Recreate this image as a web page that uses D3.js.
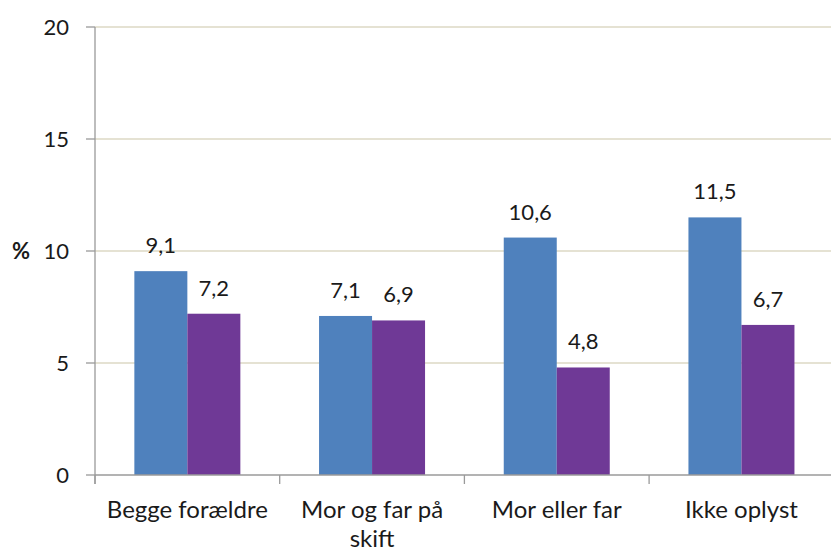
<!DOCTYPE html>
<html><head><meta charset="utf-8">
<script src="https://cdn.jsdelivr.net/npm/d3@7"></script>
<style>body{margin:0;background:#fff}svg{display:block}text{font-family:Lato,"Open Sans",sans-serif;fill:#1a1a1a}</style>
</head><body><svg id="c" width="831" height="552"></svg>
<script>
const categories = [["Begge forældre"], ["Mor og far på", "skift"], ["Mor eller far"], ["Ikke oplyst"]];
const series1 = [9.1, 7.1, 10.6, 11.5];
const series2 = [7.2, 6.9, 4.8, 6.7];
const yTicks = [0, 5, 10, 15, 20];
const colors = ["#4F81BD", "#6F3996"];

const svg = d3.select("#c");
const m = {l: 95, t: 27, b: 475, r: 833.8};
const x = d3.scaleBand().domain(d3.range(categories.length)).range([m.l, m.r]).paddingInner(0).paddingOuter(0);
const y = d3.scaleLinear().domain([0, 20]).range([m.b, m.t]);
const bw = 53;
const fs = 22;

// gridlines
svg.append("g").selectAll("line").data(yTicks.filter(d => d > 0)).join("line")
  .attr("x1", m.l).attr("x2", 831).attr("y1", d => y(d)).attr("y2", d => y(d))
  .attr("stroke", "#DCD9C5").attr("stroke-width", 1.3);

// bars
const data = [series1, series2];
data.forEach((s, si) => {
  svg.append("g").selectAll("rect").data(s).join("rect")
    .attr("x", (d, i) => x(i) + x.bandwidth() / 2 - bw + si * bw)
    .attr("width", bw)
    .attr("y", d => y(d)).attr("height", d => y(0) - y(d))
    .attr("fill", colors[si]);
  svg.append("g").selectAll("text").data(s).join("text")
    .attr("x", (d, i) => x(i) + x.bandwidth() / 2 - bw / 2 + si * bw)
    .attr("y", d => y(d) - 18)
    .attr("text-anchor", "middle").attr("font-size", fs)
    .text(d => d.toFixed(1).replace(".", ","));
});

// y axis
const ax = svg.append("g").attr("stroke", "#9A9A9A").attr("stroke-width", 1.3);
ax.append("line").attr("x1", m.l).attr("x2", m.l).attr("y1", m.t).attr("y2", m.b + 9);
ax.append("line").attr("x1", m.l).attr("x2", 831).attr("y1", m.b).attr("y2", m.b);
ax.selectAll(".yt").data(yTicks).join("line").attr("class", "yt")
  .attr("x1", m.l - 9).attr("x2", m.l).attr("y1", d => y(d)).attr("y2", d => y(d));
ax.selectAll(".xt").data(d3.range(categories.length + 1)).join("line").attr("class", "xt")
  .attr("x1", i => m.l + i * x.bandwidth()).attr("x2", i => m.l + i * x.bandwidth())
  .attr("y1", m.b).attr("y2", m.b + 9);

svg.append("g").selectAll("text").data(yTicks).join("text")
  .attr("x", 69).attr("y", d => y(d)).attr("dy", "0.36em")
  .attr("text-anchor", "end").attr("font-size", fs).text(d => d);

svg.append("text").attr("x", 12).attr("y", y(10)).attr("dy", "0.36em")
  .attr("font-size", 22).attr("font-weight", "bold").text("%");

// x labels
categories.forEach((lines, i) => {
  const t = svg.append("text").attr("text-anchor", "middle").attr("font-size", 24)
    .attr("x", x(i) + x.bandwidth() / 2).attr("y", 518);
  lines.forEach((l, j) => t.append("tspan").attr("x", x(i) + x.bandwidth() / 2).attr("dy", j ? 29 : 0).text(l));
});
</script></body></html>
